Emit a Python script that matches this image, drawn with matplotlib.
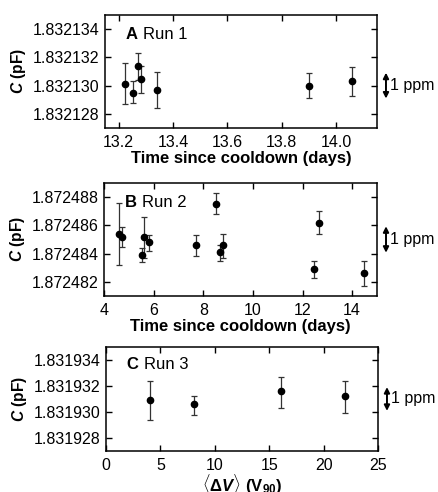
import numpy as np
import matplotlib
matplotlib.use('Agg')
import matplotlib.pyplot as plt
from matplotlib.ticker import FormatStrFormatter

plt.rcParams['font.family'] = ['Liberation Sans', 'DejaVu Sans']
plt.rcParams['mathtext.fontset'] = 'custom'
plt.rcParams['mathtext.rm'] = 'Liberation Sans:bold'
plt.rcParams['mathtext.it'] = 'Liberation Sans:bold:italic'
plt.rcParams['mathtext.bf'] = 'Liberation Sans:bold'

# Run 1 data (time in days, capacitance in pF, error bar ends)
t1 = [13.223, 13.252, 13.271, 13.283, 13.342, 13.900, 14.058]
c1 = [1.8321301, 1.8321295, 1.8321314, 1.8321305, 1.8321297, 1.8321300, 1.8321303]
c1_hi = [1.8321316, 1.8321303, 1.8321323, 1.8321314, 1.8321310, 1.8321309, 1.8321313]
c1_lo = [1.8321287, 1.8321288, 1.8321304, 1.8321295, 1.8321284, 1.8321291, 1.8321293]

# Run 2 data
t2 = [4.61, 4.74, 5.53, 5.60, 5.82, 7.70, 8.51, 8.68, 8.79, 12.47, 12.68, 14.48]
c2 = [1.8724854, 1.8724852, 1.8724839, 1.8724852, 1.8724848, 1.8724846,
      1.8724875, 1.8724841, 1.8724846, 1.8724829, 1.8724862, 1.8724826]
c2_hi = [1.8724876, 1.8724859, 1.8724844, 1.8724866, 1.8724853, 1.8724853,
         1.8724883, 1.8724846, 1.8724854, 1.8724835, 1.8724870, 1.8724835]
c2_lo = [1.8724832, 1.8724845, 1.8724834, 1.8724837, 1.8724842, 1.8724838,
         1.8724868, 1.8724835, 1.8724837, 1.8724823, 1.8724854, 1.8724817]

# Run 3 data (<dV> in V90)
v3 = [4.0, 8.1, 16.1, 22.0]
c3 = [1.8319309, 1.8319306, 1.8319316, 1.8319312]
c3_hi = [1.8319324, 1.8319312, 1.8319327, 1.8319324]
c3_lo = [1.8319294, 1.8319298, 1.8319303, 1.8319299]

W, H = 439, 492
fig = plt.figure(figsize=(W / 100, H / 100), dpi=100)

def box(l, t, r, b):
    return [l / W, 1 - b / H, (r - l) / W, (b - t) / H]

panels = [
    dict(rect=box(105, 15, 377, 128), x=t1, y=c1, hi=c1_hi, lo=c1_lo,
         xlim=(13.15, 14.15), xt=[13.2, 13.4, 13.6, 13.8, 14.0], xfmt='%.1f',
         ylim=(1.832127, 1.832135), yt=[1.832128, 1.832130, 1.832132, 1.832134],
         tag='A', run='Run 1', ppm_c=1.832130, xlabel='Time since cooldown (days)',
         lpad=1),
    dict(rect=box(104, 183, 377, 296), x=t2, y=c2, hi=c2_hi, lo=c2_lo,
         xlim=(4, 15), xt=[4, 6, 8, 10, 12, 14], xfmt='%d',
         ylim=(1.872481, 1.872489), yt=[1.872482, 1.872484, 1.872486, 1.872488],
         tag='B', run='Run 2', ppm_c=1.872485, xlabel='Time since cooldown (days)',
         lpad=1),
    dict(rect=box(106, 347, 378, 451), x=v3, y=c3, hi=c3_hi, lo=c3_lo,
         xlim=(0, 25), xt=[0, 5, 10, 15, 20, 25], xfmt='%d',
         ylim=(1.831927, 1.831935), yt=[1.831928, 1.831930, 1.831932, 1.831934],
         tag='C', run='Run 3', ppm_c=1.831931,
         xlabel=r'$\langle\Delta$' + r'$V\rangle$ (V$_{90}$)', lpad=-1),
]

for p in panels:
    ax = fig.add_axes(p['rect'])
    y = np.array(p['y'])
    yerr = [y - np.array(p['lo']), np.array(p['hi']) - y]
    ax.errorbar(p['x'], y, yerr=yerr, fmt='o', color='black', ecolor='0.2',
                elinewidth=0.9, capsize=2, capthick=0.9, markersize=4.5)
    ax.set_xlim(p['xlim'])
    ax.set_ylim(p['ylim'])
    ax.set_xticks(p['xt'])
    ax.set_yticks(p['yt'])
    ax.xaxis.set_major_formatter(FormatStrFormatter(p['xfmt']))
    ax.yaxis.set_major_formatter(FormatStrFormatter('%.6f'))
    ax.tick_params(direction='in', length=4, width=1, labelsize=11.5,
                   top=True, right=True)
    ax.tick_params(axis='x', pad=5)
    ax.tick_params(axis='y', pad=4)
    for s in ax.spines.values():
        s.set_linewidth(1.1)
    ax.set_xlabel(p['xlabel'], fontsize=12, fontweight='bold', labelpad=p['lpad'])
    ax.set_ylabel(r'$C$ (pF)', fontsize=11.2, fontweight='bold')
    ax.yaxis.set_label_coords(-0.283, 0.5)
    ax.text(0.075, 0.83, p['tag'], transform=ax.transAxes, fontsize=12,
            fontweight='bold', va='center')
    ax.text(0.14, 0.83, p['run'], transform=ax.transAxes, fontsize=12,
            va='center')
    # 1 ppm scale arrow
    half = p['ppm_c'] * 1e-6 / 2
    ax.annotate('', xy=(1.033, p['ppm_c'] + half), xytext=(1.033, p['ppm_c'] - half),
                xycoords=('axes fraction', 'data'), textcoords=('axes fraction', 'data'),
                arrowprops=dict(arrowstyle='<|-|>', color='black', lw=1.4,
                                mutation_scale=8, shrinkA=0, shrinkB=0),
                annotation_clip=False)
    ax.text(1.046, p['ppm_c'], '1 ppm', transform=ax.get_yaxis_transform(),
            fontsize=11.5, va='center', ha='left')

fig.savefig('out.png', dpi=100)
